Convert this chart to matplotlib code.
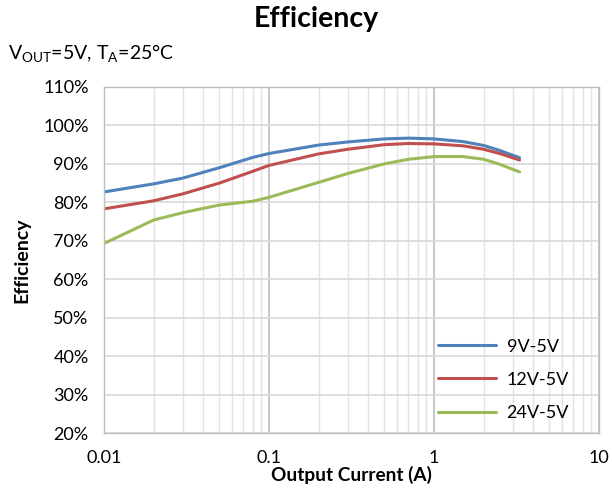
import matplotlib
matplotlib.use("Agg")
import matplotlib.pyplot as plt
from matplotlib.ticker import FixedLocator, FuncFormatter, NullFormatter, LogLocator

current = [0.01, 0.02, 0.03, 0.05, 0.08, 0.1, 0.2, 0.3, 0.5, 0.7, 1, 1.5, 2, 2.5, 3.3]
eff_9v = [82.7, 84.8, 86.3, 89.0, 91.7, 92.7, 94.9, 95.7, 96.5, 96.7, 96.5, 95.8, 94.8, 93.5, 91.6]
eff_12v = [78.3, 80.4, 82.2, 85.0, 88.1, 89.6, 92.6, 93.8, 95.0, 95.3, 95.2, 94.7, 93.8, 92.7, 91.0]
eff_24v = [69.3, 75.4, 77.3, 79.3, 80.3, 81.3, 85.2, 87.5, 90.0, 91.2, 91.9, 91.9, 91.2, 89.9, 87.9]
series_labels = ["9V-5V", "12V-5V", "24V-5V"]
colors = ["#4F81BD", "#C0504D", "#9BBB59"]
x_ticks = [0.01, 0.1, 1, 10]
x_tick_labels = ["0.01", "0.1", "1", "10"]
y_ticks = [20, 30, 40, 50, 60, 70, 80, 90, 100, 110]

plt.rcParams['font.family'] = ['Lato', 'DejaVu Sans']
plt.rcParams['mathtext.fontset'] = 'custom'
plt.rcParams['mathtext.rm'] = 'Lato'

fig = plt.figure(figsize=(6.12, 4.96), dpi=100)
ax = fig.add_axes([104/612, 1-433/496, (599-104)/612, (433-87)/496])

for ys, lab, c in zip([eff_9v, eff_12v, eff_24v], series_labels, colors):
    ax.plot(current, ys, color=c, lw=2.2, label=lab, solid_capstyle='round')

ax.set_xscale('log')
ax.set_xlim(0.01, 10)
ax.set_ylim(20, 110)
ax.xaxis.set_major_locator(FixedLocator(x_ticks))
ax.xaxis.set_major_formatter(FuncFormatter(lambda v, p: x_tick_labels[x_ticks.index(v)] if v in x_ticks else ""))
ax.xaxis.set_minor_locator(LogLocator(base=10, subs=range(2, 10)))
ax.xaxis.set_minor_formatter(NullFormatter())
ax.yaxis.set_major_locator(FixedLocator(y_ticks))
ax.yaxis.set_major_formatter(FuncFormatter(lambda v, p: f"{int(round(v))}%"))

ax.grid(True, which='major', axis='x', color='#BEBEBE', lw=1.2)
ax.grid(True, which='minor', axis='x', color='#E3E3E3', lw=1.0)
ax.grid(True, which='major', axis='y', color='#D9D9D9', lw=1.2)
ax.set_axisbelow(True)
for s in ax.spines.values():
    s.set_color('#BEBEBE')
    s.set_linewidth(1.0)
ax.tick_params(axis='y', which='both', length=0, labelsize=13, colors='black', pad=11)
ax.tick_params(axis='x', which='both', length=0, labelsize=13, colors='black', pad=12)

ax.set_xlabel("Output Current (A)", fontsize=13.7, fontweight='bold', labelpad=0)
ax.set_ylabel("Efficiency", fontsize=14, fontweight='bold', labelpad=9)

fig.text(316/612, 1-19/496, "Efficiency", ha='center', va='center', fontsize=20.5, fontweight='bold')
fig.text(8/612, 1-54/496, r"V$_{\mathregular{OUT}}$=5V, T$_{\mathregular{A}}$=25°C", ha='left', va='center', fontsize=14)

leg = ax.legend(loc='lower right', frameon=False, fontsize=13, handlelength=3.2,
                labelspacing=0.95, bbox_to_anchor=(0.972, -0.012), handletextpad=0.6)

fig.savefig("out.png", dpi=100)
